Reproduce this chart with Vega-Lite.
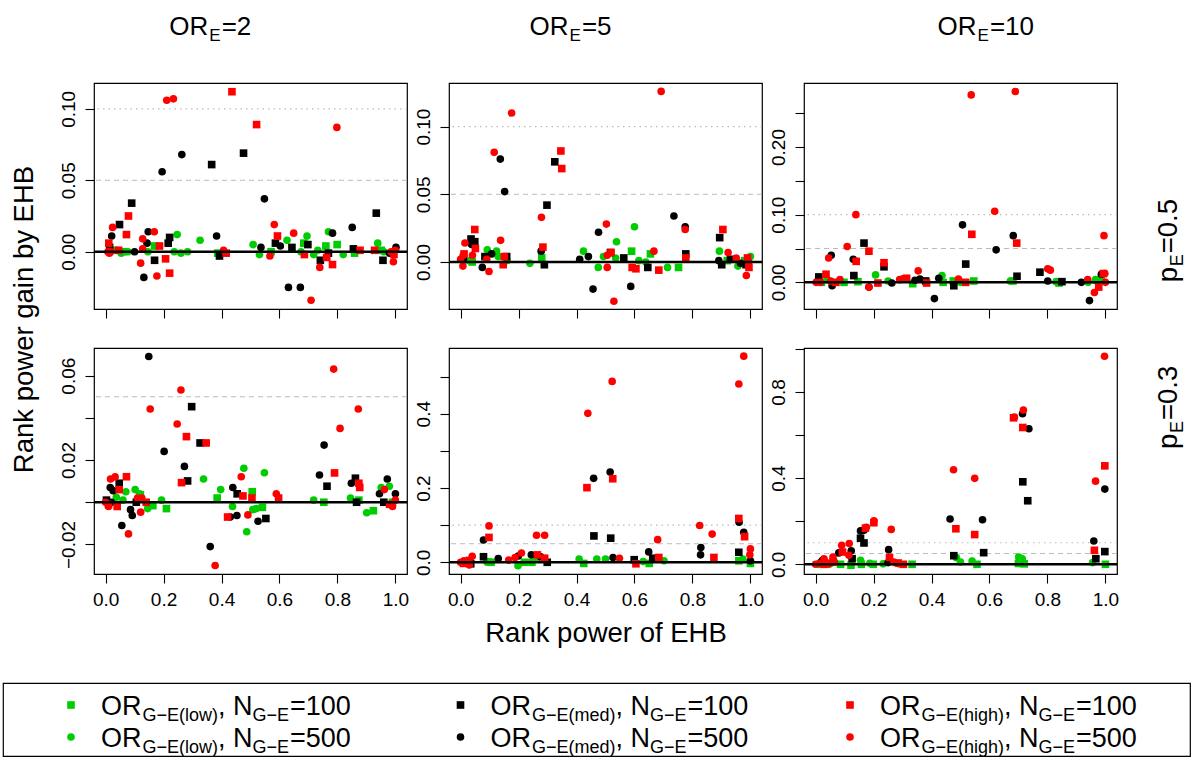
{
"$schema":"https://vega.github.io/schema/vega-lite/v6.json",
"background":"white",
"padding":{"left":2,"top":13,"right":0,"bottom":0},
"config":{"font":"Liberation Sans","view":{"stroke":"black","strokeWidth":1.2},
"axis":{"domain":false,"grid":false,"tickColor":"black","tickSize":9,"tickWidth":1.1,"labelFontSize":19,"labelColor":"black","labelFont":"Liberation Sans","labelFlush":false,"labelOverlap":false,"titleFont":"Liberation Sans","titleFontSize":27.5,"titleFontWeight":"normal","titleColor":"black"},
"axisX":{"labelPadding":7},
"axisY":{"labelAngle":270,"labelAlign":"center","labelBaseline":"alphabetic","labelPadding":11},
"text":{"font":"Liberation Sans","color":"black"}},
"datasets":{"pts":[
{"p":1,"g":"gS","x":0.169,"y":0.004},{"p":1,"g":"gS","x":0.76,"y":0.004},{"p":1,"g":"gS","x":0.799,"y":0.005},{"p":1,"g":"gS","x":0.387,"y":-0.001},{"p":1,"g":"gS","x":0.571,"y":0.0},{"p":1,"g":"gS","x":0.859,"y":-0.001},{"p":1,"g":"gS","x":0.951,"y":0.001},{"p":1,"g":"gS","x":0.684,"y":0.006},{"p":1,"g":"gS","x":0.03,"y":0.001},{"p":1,"g":"gS","x":0.06,"y":0.0},
{"p":1,"g":"gC","x":0.247,"y":0.012},{"p":1,"g":"gC","x":0.326,"y":0.008},{"p":1,"g":"gC","x":0.695,"y":0.011},{"p":1,"g":"gC","x":0.769,"y":0.014},{"p":1,"g":"gC","x":0.626,"y":0.008},{"p":1,"g":"gC","x":0.939,"y":0.006},{"p":1,"g":"gC","x":0.509,"y":0.005},{"p":1,"g":"gC","x":0.531,"y":-0.002},{"p":1,"g":"gC","x":0.732,"y":0.001},{"p":1,"g":"gC","x":0.718,"y":-0.002},{"p":1,"g":"gC","x":0.82,"y":-0.002},{"p":1,"g":"gC","x":0.054,"y":-0.001},{"p":1,"g":"gC","x":0.077,"y":0.0},{"p":1,"g":"gC","x":0.146,"y":0.0},{"p":1,"g":"gC","x":0.237,"y":0.0},{"p":1,"g":"gC","x":0.26,"y":-0.001},{"p":1,"g":"gC","x":0.283,"y":0.0},{"p":1,"g":"gC","x":0.674,"y":0.0},{"p":1,"g":"gC","x":0.96,"y":0.0},
{"p":1,"g":"kS","x":0.366,"y":0.061},{"p":1,"g":"kS","x":0.476,"y":0.069},{"p":1,"g":"kS","x":0.09,"y":0.034},{"p":1,"g":"kS","x":0.934,"y":0.027},{"p":1,"g":"kS","x":0.048,"y":0.019},{"p":1,"g":"kS","x":0.221,"y":0.01},{"p":1,"g":"kS","x":0.216,"y":0.006},{"p":1,"g":"kS","x":0.586,"y":0.006},{"p":1,"g":"kS","x":0.643,"y":0.003},{"p":1,"g":"kS","x":0.698,"y":0.005},{"p":1,"g":"kS","x":0.393,"y":-0.003},{"p":1,"g":"kS","x":0.169,"y":-0.006},{"p":1,"g":"kS","x":0.741,"y":-0.006},{"p":1,"g":"kS","x":0.769,"y":-0.001},{"p":1,"g":"kS","x":0.855,"y":0.002},{"p":1,"g":"kS","x":0.957,"y":-0.006},{"p":1,"g":"kS","x":0.014,"y":0.003},
{"p":1,"g":"kC","x":0.263,"y":0.068},{"p":1,"g":"kC","x":0.195,"y":0.056},{"p":1,"g":"kC","x":0.548,"y":0.037},{"p":1,"g":"kC","x":0.021,"y":0.011},{"p":1,"g":"kC","x":0.851,"y":0.017},{"p":1,"g":"kC","x":0.147,"y":0.014},{"p":1,"g":"kC","x":0.383,"y":0.011},{"p":1,"g":"kC","x":0.783,"y":0.013},{"p":1,"g":"kC","x":0.143,"y":0.006},{"p":1,"g":"kC","x":0.536,"y":0.003},{"p":1,"g":"kC","x":0.603,"y":0.004},{"p":1,"g":"kC","x":0.1,"y":0.0},{"p":1,"g":"kC","x":0.132,"y":-0.018},{"p":1,"g":"kC","x":0.631,"y":-0.025},{"p":1,"g":"kC","x":0.672,"y":-0.025},{"p":1,"g":"kC","x":1.002,"y":0.003},{"p":1,"g":"kC","x":0.98,"y":-0.001},
{"p":1,"g":"rS","x":0.436,"y":0.112},{"p":1,"g":"rS","x":0.521,"y":0.089},{"p":1,"g":"rS","x":0.079,"y":0.025},{"p":1,"g":"rS","x":0.072,"y":0.012},{"p":1,"g":"rS","x":0.593,"y":0.011},{"p":1,"g":"rS","x":0.011,"y":0.006},{"p":1,"g":"rS","x":0.186,"y":0.004},{"p":1,"g":"rS","x":0.416,"y":-0.001},{"p":1,"g":"rS","x":0.207,"y":-0.005},{"p":1,"g":"rS","x":0.221,"y":-0.015},{"p":1,"g":"rS","x":0.783,"y":-0.009},{"p":1,"g":"rS","x":0.763,"y":-0.004},{"p":1,"g":"rS","x":0.686,"y":-0.002},{"p":1,"g":"rS","x":0.878,"y":0.001},{"p":1,"g":"rS","x":0.928,"y":0.001},{"p":1,"g":"rS","x":0.045,"y":0.001},{"p":1,"g":"rS","x":0.995,"y":-0.002},
{"p":1,"g":"rC","x":0.211,"y":0.106},{"p":1,"g":"rC","x":0.234,"y":0.107},{"p":1,"g":"rC","x":0.798,"y":0.087},{"p":1,"g":"rC","x":0.024,"y":0.017},{"p":1,"g":"rC","x":0.582,"y":0.019},{"p":1,"g":"rC","x":0.168,"y":0.014},{"p":1,"g":"rC","x":0.649,"y":0.013},{"p":1,"g":"rC","x":0.128,"y":0.009},{"p":1,"g":"rC","x":0.128,"y":0.002},{"p":1,"g":"rC","x":0.407,"y":0.001},{"p":1,"g":"rC","x":0.567,"y":-0.003},{"p":1,"g":"rC","x":0.121,"y":-0.008},{"p":1,"g":"rC","x":0.177,"y":-0.017},{"p":1,"g":"rC","x":0.709,"y":-0.034},{"p":1,"g":"rC","x":0.739,"y":-0.011},{"p":1,"g":"rC","x":0.993,"y":-0.007},{"p":1,"g":"rC","x":0.013,"y":-0.001},{"p":1,"g":"rC","x":0.018,"y":0.0},{"p":1,"g":"rC","x":0.008,"y":0.0},{"p":1,"g":"rC","x":0.985,"y":0.0},{"p":1,"g":"rC","x":1.0,"y":0.001},
{"p":2,"g":"gS","x":0.28,"y":0.003},{"p":2,"g":"gS","x":0.59,"y":0.008},{"p":2,"g":"gS","x":0.655,"y":0.006},{"p":2,"g":"gS","x":0.752,"y":-0.004},{"p":2,"g":"gS","x":0.04,"y":0.0},{"p":2,"g":"gS","x":0.92,"y":0.001},{"p":2,"g":"gS","x":0.98,"y":0.001},
{"p":2,"g":"gC","x":0.239,"y":-0.001},{"p":2,"g":"gC","x":0.6,"y":0.026},{"p":2,"g":"gC","x":0.538,"y":0.015},{"p":2,"g":"gC","x":0.424,"y":0.008},{"p":2,"g":"gC","x":0.493,"y":0.004},{"p":2,"g":"gC","x":0.475,"y":-0.004},{"p":2,"g":"gC","x":0.615,"y":0.001},{"p":2,"g":"gC","x":0.639,"y":0.0},{"p":2,"g":"gC","x":0.714,"y":-0.004},{"p":2,"g":"gC","x":0.893,"y":0.008},{"p":2,"g":"gC","x":0.957,"y":-0.003},{"p":2,"g":"gC","x":1.0,"y":0.004},{"p":2,"g":"gC","x":0.092,"y":0.009},{"p":2,"g":"gC","x":0.124,"y":0.008},{"p":2,"g":"gC","x":0.13,"y":0.004},{"p":2,"g":"gC","x":0.16,"y":0.001},{"p":2,"g":"gC","x":0.535,"y":0.003},{"p":2,"g":"gC","x":0.03,"y":0.001},
{"p":2,"g":"kS","x":0.325,"y":0.074},{"p":2,"g":"kS","x":0.298,"y":0.042},{"p":2,"g":"kS","x":0.894,"y":0.018},{"p":2,"g":"kS","x":0.036,"y":0.017},{"p":2,"g":"kS","x":0.049,"y":0.015},{"p":2,"g":"kS","x":0.289,"y":-0.002},{"p":2,"g":"kS","x":0.517,"y":0.007},{"p":2,"g":"kS","x":0.563,"y":0.003},{"p":2,"g":"kS","x":0.646,"y":-0.004},{"p":2,"g":"kS","x":0.777,"y":0.006},{"p":2,"g":"kS","x":0.901,"y":-0.002},{"p":2,"g":"kS","x":0.931,"y":0.002},{"p":2,"g":"kS","x":0.084,"y":0.004},{"p":2,"g":"kS","x":0.159,"y":0.004},{"p":2,"g":"kS","x":0.985,"y":-0.002},
{"p":2,"g":"kC","x":0.137,"y":0.076},{"p":2,"g":"kC","x":0.152,"y":0.052},{"p":2,"g":"kC","x":0.736,"y":0.034},{"p":2,"g":"kC","x":0.775,"y":0.026},{"p":2,"g":"kC","x":0.038,"y":0.013},{"p":2,"g":"kC","x":0.278,"y":0.008},{"p":2,"g":"kC","x":0.476,"y":0.022},{"p":2,"g":"kC","x":0.441,"y":0.004},{"p":2,"g":"kC","x":0.411,"y":0.002},{"p":2,"g":"kC","x":0.457,"y":-0.02},{"p":2,"g":"kC","x":0.587,"y":-0.018},{"p":2,"g":"kC","x":0.891,"y":0.001},{"p":2,"g":"kC","x":0.966,"y":-0.001},{"p":2,"g":"kC","x":0.075,"y":-0.004},{"p":2,"g":"kC","x":0.107,"y":0.006},{"p":2,"g":"kC","x":0.01,"y":0.002},
{"p":2,"g":"rS","x":0.346,"y":0.082},{"p":2,"g":"rS","x":0.349,"y":0.069},{"p":2,"g":"rS","x":0.905,"y":0.024},{"p":2,"g":"rS","x":0.049,"y":0.024},{"p":2,"g":"rS","x":0.051,"y":0.01},{"p":2,"g":"rS","x":0.284,"y":0.011},{"p":2,"g":"rS","x":0.519,"y":0.007},{"p":2,"g":"rS","x":0.592,"y":-0.004},{"p":2,"g":"rS","x":0.605,"y":-0.005},{"p":2,"g":"rS","x":0.684,"y":-0.006},{"p":2,"g":"rS","x":0.777,"y":0.003},{"p":2,"g":"rS","x":0.147,"y":-0.002},{"p":2,"g":"rS","x":0.151,"y":0.004},{"p":2,"g":"rS","x":0.012,"y":0.006},{"p":2,"g":"rS","x":0.99,"y":0.003},{"p":2,"g":"rS","x":0.995,"y":-0.004},
{"p":2,"g":"rC","x":0.692,"y":0.126},{"p":2,"g":"rC","x":0.176,"y":0.11},{"p":2,"g":"rC","x":0.116,"y":0.081},{"p":2,"g":"rC","x":0.279,"y":0.033},{"p":2,"g":"rC","x":0.775,"y":0.024},{"p":2,"g":"rC","x":0.015,"y":0.014},{"p":2,"g":"rC","x":0.138,"y":0.016},{"p":2,"g":"rC","x":0.503,"y":0.028},{"p":2,"g":"rC","x":0.506,"y":0.005},{"p":2,"g":"rC","x":0.506,"y":-0.004},{"p":2,"g":"rC","x":0.529,"y":-0.029},{"p":2,"g":"rC","x":0.667,"y":0.008},{"p":2,"g":"rC","x":0.923,"y":0.007},{"p":2,"g":"rC","x":0.951,"y":0.003},{"p":2,"g":"rC","x":0.986,"y":-0.01},{"p":2,"g":"rC","x":0.994,"y":0.0},{"p":2,"g":"rC","x":0.0,"y":0.002},{"p":2,"g":"rC","x":0.008,"y":-0.003},{"p":2,"g":"rC","x":0.009,"y":0.005},{"p":2,"g":"rC","x":0.098,"y":-0.007},{"p":2,"g":"rC","x":0.09,"y":0.002},{"p":2,"g":"rC","x":0.041,"y":0.005},
{"p":3,"g":"gS","x":0.546,"y":0.002},{"p":3,"g":"gS","x":0.098,"y":0.0},{"p":3,"g":"gS","x":0.146,"y":0.001},{"p":3,"g":"gS","x":0.335,"y":-0.002},{"p":3,"g":"gS","x":0.44,"y":0.0},{"p":3,"g":"gS","x":0.475,"y":0.002},{"p":3,"g":"gS","x":0.681,"y":0.002},{"p":3,"g":"gS","x":0.84,"y":-0.001},{"p":3,"g":"gS","x":0.97,"y":0.003},{"p":3,"g":"gS","x":0.02,"y":0.0},
{"p":3,"g":"gC","x":0.672,"y":0.002},{"p":3,"g":"gC","x":0.207,"y":0.011},{"p":3,"g":"gC","x":0.436,"y":0.01},{"p":3,"g":"gC","x":0.04,"y":0.004},{"p":3,"g":"gC","x":0.5,"y":0.0},{"p":3,"g":"gC","x":0.83,"y":0.001},{"p":3,"g":"gC","x":0.966,"y":0.004},{"p":3,"g":"gC","x":0.986,"y":0.005},{"p":3,"g":"gC","x":0.25,"y":0.002},{"p":3,"g":"gC","x":0.38,"y":0.001},{"p":3,"g":"gC","x":0.94,"y":0.0},
{"p":3,"g":"kS","x":0.167,"y":0.058},{"p":3,"g":"kS","x":0.236,"y":0.023},{"p":3,"g":"kS","x":0.518,"y":0.027},{"p":3,"g":"kS","x":0.774,"y":0.015},{"p":3,"g":"kS","x":0.695,"y":0.009},{"p":3,"g":"kS","x":0.132,"y":0.01},{"p":3,"g":"kS","x":0.477,"y":-0.005},{"p":3,"g":"kS","x":0.011,"y":0.008},{"p":3,"g":"kS","x":0.38,"y":0.002},{"p":3,"g":"kS","x":0.85,"y":0.001},
{"p":3,"g":"kC","x":0.507,"y":0.085},{"p":3,"g":"kC","x":0.682,"y":0.069},{"p":3,"g":"kC","x":0.623,"y":0.048},{"p":3,"g":"kC","x":0.054,"y":0.04},{"p":3,"g":"kC","x":0.13,"y":0.034},{"p":3,"g":"kC","x":0.801,"y":0.002},{"p":3,"g":"kC","x":0.41,"y":-0.024},{"p":3,"g":"kC","x":0.945,"y":-0.027},{"p":3,"g":"kC","x":0.986,"y":0.012},{"p":3,"g":"kC","x":0.917,"y":0.0},{"p":3,"g":"kC","x":0.184,"y":-0.007},{"p":3,"g":"kC","x":0.263,"y":-0.001},{"p":3,"g":"kC","x":0.057,"y":-0.005},{"p":3,"g":"kC","x":0.343,"y":0.003},{"p":3,"g":"kC","x":0.36,"y":0.005},{"p":3,"g":"kC","x":0.425,"y":0.006},{"p":3,"g":"kC","x":0.01,"y":0.005},
{"p":3,"g":"rS","x":0.539,"y":0.071},{"p":3,"g":"rS","x":0.694,"y":0.058},{"p":3,"g":"rS","x":0.184,"y":0.046},{"p":3,"g":"rS","x":0.14,"y":0.031},{"p":3,"g":"rS","x":0.236,"y":0.029},{"p":3,"g":"rS","x":0.036,"y":0.012},{"p":3,"g":"rS","x":0.215,"y":-0.001},{"p":3,"g":"rS","x":0.383,"y":-0.001},{"p":3,"g":"rS","x":0.307,"y":0.005},{"p":3,"g":"rS","x":0.314,"y":0.006},{"p":3,"g":"rS","x":0.518,"y":0.0},{"p":3,"g":"rS","x":0.977,"y":-0.007},{"p":3,"g":"rS","x":0.07,"y":0.0},{"p":3,"g":"rS","x":0.993,"y":0.013},
{"p":3,"g":"rC","x":0.689,"y":0.282},{"p":3,"g":"rC","x":0.537,"y":0.277},{"p":3,"g":"rC","x":0.139,"y":0.1},{"p":3,"g":"rC","x":0.618,"y":0.105},{"p":3,"g":"rC","x":0.109,"y":0.053},{"p":3,"g":"rC","x":0.045,"y":0.036},{"p":3,"g":"rC","x":0.801,"y":0.02},{"p":3,"g":"rC","x":0.81,"y":0.018},{"p":3,"g":"rC","x":0.354,"y":0.017},{"p":3,"g":"rC","x":0.493,"y":0.005},{"p":3,"g":"rC","x":0.962,"y":-0.015},{"p":3,"g":"rC","x":0.995,"y":0.069},{"p":3,"g":"rC","x":0.998,"y":0.013},{"p":3,"g":"rC","x":1.0,"y":0.0},{"p":3,"g":"rC","x":0.939,"y":0.004},{"p":3,"g":"rC","x":0.184,"y":-0.007},{"p":3,"g":"rC","x":0.002,"y":0.0},{"p":3,"g":"rC","x":0.017,"y":0.0},{"p":3,"g":"rC","x":0.052,"y":0.002},{"p":3,"g":"rC","x":0.084,"y":0.004},{"p":3,"g":"rC","x":0.29,"y":0.004},
{"p":4,"g":"gS","x":0.506,"y":0.005},{"p":4,"g":"gS","x":0.385,"y":0.002},{"p":4,"g":"gS","x":0.163,"y":-0.0016},{"p":4,"g":"gS","x":0.21,"y":-0.003},{"p":4,"g":"gS","x":0.541,"y":-0.0024},{"p":4,"g":"gS","x":0.874,"y":0.001},{"p":4,"g":"gS","x":0.753,"y":0.0},{"p":4,"g":"gS","x":0.924,"y":-0.004},{"p":4,"g":"gS","x":0.12,"y":0.0035},{"p":4,"g":"gS","x":0.99,"y":0.0},
{"p":4,"g":"gC","x":0.477,"y":0.0161},{"p":4,"g":"gC","x":0.548,"y":0.014},{"p":4,"g":"gC","x":0.338,"y":0.011},{"p":4,"g":"gC","x":0.07,"y":0.005},{"p":4,"g":"gC","x":0.102,"y":0.006},{"p":4,"g":"gC","x":0.117,"y":0.004},{"p":4,"g":"gC","x":0.397,"y":0.006},{"p":4,"g":"gC","x":0.193,"y":0.001},{"p":4,"g":"gC","x":0.845,"y":0.002},{"p":4,"g":"gC","x":0.718,"y":0.001},{"p":4,"g":"gC","x":0.901,"y":-0.005},{"p":4,"g":"gC","x":0.951,"y":0.007},{"p":4,"g":"gC","x":0.979,"y":0.0076},{"p":4,"g":"gC","x":0.145,"y":-0.003},{"p":4,"g":"gC","x":0.487,"y":-0.014},{"p":4,"g":"gC","x":0.508,"y":-0.0035},{"p":4,"g":"gC","x":0.52,"y":-0.003},{"p":4,"g":"gC","x":0.438,"y":-0.002},{"p":4,"g":"gC","x":0.037,"y":0.0024},{"p":4,"g":"gC","x":0.06,"y":0.001},
{"p":4,"g":"kS","x":0.297,"y":0.0453},{"p":4,"g":"kS","x":0.326,"y":0.0281},{"p":4,"g":"kS","x":0.283,"y":0.0101},{"p":4,"g":"kS","x":0.047,"y":0.009},{"p":4,"g":"kS","x":0.454,"y":0.004},{"p":4,"g":"kS","x":0.862,"y":0.0114},{"p":4,"g":"kS","x":0.866,"y":0.0},{"p":4,"g":"kS","x":0.553,"y":-0.0077},{"p":4,"g":"kS","x":0.106,"y":0.0},{"p":4,"g":"kS","x":0.96,"y":0.0},{"p":4,"g":"kS","x":0.764,"y":0.0076},{"p":4,"g":"kS","x":0.003,"y":0.001},
{"p":4,"g":"kC","x":0.149,"y":0.0691},{"p":4,"g":"kC","x":0.754,"y":0.0271},{"p":4,"g":"kC","x":0.202,"y":0.0241},{"p":4,"g":"kC","x":0.272,"y":0.017},{"p":4,"g":"kC","x":0.738,"y":0.0129},{"p":4,"g":"kC","x":0.016,"y":0.007},{"p":4,"g":"kC","x":0.026,"y":0.0055},{"p":4,"g":"kC","x":0.439,"y":0.007},{"p":4,"g":"kC","x":0.848,"y":0.009},{"p":4,"g":"kC","x":0.972,"y":0.011},{"p":4,"g":"kC","x":0.945,"y":0.004},{"p":4,"g":"kC","x":1.0,"y":0.004},{"p":4,"g":"kC","x":0.056,"y":-0.011},{"p":4,"g":"kC","x":0.086,"y":-0.0035},{"p":4,"g":"kC","x":0.092,"y":-0.0063},{"p":4,"g":"kC","x":0.361,"y":-0.021},{"p":4,"g":"kC","x":0.43,"y":-0.007},{"p":4,"g":"kC","x":0.453,"y":-0.0063},{"p":4,"g":"kC","x":0.526,"y":-0.009},{"p":4,"g":"kC","x":0.02,"y":0.0},
{"p":4,"g":"rS","x":0.279,"y":0.0311},{"p":4,"g":"rS","x":0.347,"y":0.0281},{"p":4,"g":"rS","x":0.79,"y":0.0139},{"p":4,"g":"rS","x":0.262,"y":0.0093},{"p":4,"g":"rS","x":0.072,"y":0.0121},{"p":4,"g":"rS","x":0.047,"y":0.006},{"p":4,"g":"rS","x":0.474,"y":0.003},{"p":4,"g":"rS","x":0.505,"y":0.002},{"p":4,"g":"rS","x":0.597,"y":0.002},{"p":4,"g":"rS","x":0.874,"y":0.009},{"p":4,"g":"rS","x":0.877,"y":0.007},{"p":4,"g":"rS","x":0.421,"y":-0.007},{"p":4,"g":"rS","x":0.14,"y":0.0},{"p":4,"g":"rS","x":0.98,"y":-0.001},{"p":4,"g":"rS","x":0.01,"y":-0.001},{"p":4,"g":"rS","x":0.04,"y":-0.002},
{"p":4,"g":"rC","x":0.787,"y":0.0631},{"p":4,"g":"rC","x":0.26,"y":0.0532},{"p":4,"g":"rC","x":0.154,"y":0.0442},{"p":4,"g":"rC","x":0.872,"y":0.0442},{"p":4,"g":"rC","x":0.247,"y":0.0371},{"p":4,"g":"rC","x":0.809,"y":0.035},{"p":4,"g":"rC","x":0.468,"y":0.0121},{"p":4,"g":"rC","x":0.017,"y":0.011},{"p":4,"g":"rC","x":0.033,"y":0.012},{"p":4,"g":"rC","x":0.589,"y":0.004},{"p":4,"g":"rC","x":0.962,"y":0.006},{"p":4,"g":"rC","x":0.079,"y":-0.015},{"p":4,"g":"rC","x":0.121,"y":-0.0047},{"p":4,"g":"rC","x":0.378,"y":-0.03},{"p":4,"g":"rC","x":0.491,"y":-0.006},{"p":4,"g":"rC","x":0.0,"y":0.0},{"p":4,"g":"rC","x":0.01,"y":-0.002},{"p":4,"g":"rC","x":0.11,"y":0.002},{"p":4,"g":"rC","x":0.125,"y":0.002},{"p":4,"g":"rC","x":0.99,"y":-0.002},{"p":4,"g":"rC","x":1.0,"y":0.001},
{"p":5,"g":"gS","x":0.425,"y":-0.003},{"p":5,"g":"gS","x":0.22,"y":0.0},{"p":5,"g":"gS","x":0.246,"y":0.0},{"p":5,"g":"gS","x":0.096,"y":0.001},{"p":5,"g":"gS","x":0.105,"y":0.0},{"p":5,"g":"gS","x":0.651,"y":-0.003},{"p":5,"g":"gS","x":0.96,"y":0.004},{"p":5,"g":"gS","x":1.0,"y":-0.003},{"p":5,"g":"gS","x":0.03,"y":0.0},
{"p":5,"g":"gC","x":0.409,"y":0.009},{"p":5,"g":"gC","x":0.47,"y":0.009},{"p":5,"g":"gC","x":0.5,"y":0.009},{"p":5,"g":"gC","x":0.198,"y":-0.009},{"p":5,"g":"gC","x":0.263,"y":0.009},{"p":5,"g":"gC","x":0.63,"y":0.002},{"p":5,"g":"gC","x":0.702,"y":0.004},{"p":5,"g":"gC","x":0.974,"y":0.009},{"p":5,"g":"gC","x":0.09,"y":0.002},{"p":5,"g":"gC","x":0.02,"y":0.001},
{"p":5,"g":"kS","x":0.46,"y":0.071},{"p":5,"g":"kS","x":0.518,"y":0.065},{"p":5,"g":"kS","x":0.96,"y":0.027},{"p":5,"g":"kS","x":0.299,"y":0.0},{"p":5,"g":"kS","x":0.079,"y":0.015},{"p":5,"g":"kS","x":0.599,"y":0.007},{"p":5,"g":"kS","x":0.663,"y":0.011},{"p":5,"g":"kS","x":0.035,"y":-0.004},
{"p":5,"g":"kC","x":0.516,"y":0.243},{"p":5,"g":"kC","x":0.459,"y":0.226},{"p":5,"g":"kC","x":0.961,"y":0.108},{"p":5,"g":"kC","x":0.977,"y":0.081},{"p":5,"g":"kC","x":0.079,"y":0.06},{"p":5,"g":"kC","x":0.829,"y":0.04},{"p":5,"g":"kC","x":0.828,"y":0.02},{"p":5,"g":"kC","x":0.649,"y":0.028},{"p":5,"g":"kC","x":0.526,"y":0.013},{"p":5,"g":"kC","x":0.244,"y":0.02},{"p":5,"g":"kC","x":0.276,"y":0.015},{"p":5,"g":"kC","x":0.13,"y":0.01},{"p":5,"g":"kC","x":0.199,"y":0.017},{"p":5,"g":"kC","x":1.0,"y":0.004},
{"p":5,"g":"rS","x":0.525,"y":0.225},{"p":5,"g":"rS","x":0.436,"y":0.201},{"p":5,"g":"rS","x":0.96,"y":0.118},{"p":5,"g":"rS","x":0.98,"y":0.069},{"p":5,"g":"rS","x":0.098,"y":0.067},{"p":5,"g":"rS","x":0.874,"y":0.013},{"p":5,"g":"rS","x":0.605,"y":-0.004},{"p":5,"g":"rS","x":0.684,"y":0.013},{"p":5,"g":"rS","x":0.265,"y":0.02},{"p":5,"g":"rS","x":0.29,"y":0.011},{"p":5,"g":"rS","x":0.01,"y":-0.003},{"p":5,"g":"rS","x":0.03,"y":0.005},
{"p":5,"g":"rC","x":0.977,"y":0.555},{"p":5,"g":"rC","x":0.96,"y":0.48},{"p":5,"g":"rC","x":0.523,"y":0.487},{"p":5,"g":"rC","x":0.439,"y":0.401},{"p":5,"g":"rC","x":0.098,"y":0.098},{"p":5,"g":"rC","x":0.825,"y":0.099},{"p":5,"g":"rC","x":0.868,"y":0.076},{"p":5,"g":"rC","x":0.68,"y":0.061},{"p":5,"g":"rC","x":0.262,"y":0.073},{"p":5,"g":"rC","x":0.29,"y":0.073},{"p":5,"g":"rC","x":1.0,"y":0.036},{"p":5,"g":"rC","x":0.998,"y":0.02},{"p":5,"g":"rC","x":0.548,"y":0.011},{"p":5,"g":"rC","x":0.21,"y":0.025},{"p":5,"g":"rC","x":0.188,"y":0.013},{"p":5,"g":"rC","x":0.166,"y":0.006},{"p":5,"g":"rC","x":0.0,"y":0.0},{"p":5,"g":"rC","x":0.02,"y":0.0},{"p":5,"g":"rC","x":0.04,"y":0.016},{"p":5,"g":"rC","x":0.03,"y":-0.007},{"p":5,"g":"rC","x":0.012,"y":0.004},
{"p":6,"g":"gS","x":0.557,"y":0.0},{"p":6,"g":"gS","x":0.7,"y":0.004},{"p":6,"g":"gS","x":0.72,"y":0.002},{"p":6,"g":"gS","x":1.0,"y":0.0},{"p":6,"g":"gS","x":0.158,"y":0.0},{"p":6,"g":"gS","x":0.122,"y":-0.004},{"p":6,"g":"gS","x":0.086,"y":0.0},{"p":6,"g":"gS","x":0.199,"y":0.0},{"p":6,"g":"gS","x":0.333,"y":0.0},{"p":6,"g":"gS","x":0.02,"y":0.0},
{"p":6,"g":"gC","x":0.486,"y":0.031},{"p":6,"g":"gC","x":0.5,"y":0.011},{"p":6,"g":"gC","x":0.54,"y":0.015},{"p":6,"g":"gC","x":0.701,"y":0.034},{"p":6,"g":"gC","x":0.713,"y":0.026},{"p":6,"g":"gC","x":0.716,"y":0.006},{"p":6,"g":"gC","x":0.956,"y":0.008},{"p":6,"g":"gC","x":0.155,"y":0.019},{"p":6,"g":"gC","x":0.187,"y":0.005},{"p":6,"g":"gC","x":0.233,"y":0.002},{"p":6,"g":"gC","x":0.05,"y":0.002},{"p":6,"g":"gC","x":0.01,"y":0.0},
{"p":6,"g":"kS","x":0.715,"y":0.383},{"p":6,"g":"kS","x":0.732,"y":0.295},{"p":6,"g":"kS","x":0.155,"y":0.121},{"p":6,"g":"kS","x":0.167,"y":0.099},{"p":6,"g":"kS","x":0.126,"y":0.026},{"p":6,"g":"kS","x":0.967,"y":0.026},{"p":6,"g":"kS","x":0.998,"y":0.059},{"p":6,"g":"kS","x":0.477,"y":0.04},{"p":6,"g":"kS","x":0.58,"y":0.054},{"p":6,"g":"kS","x":0.02,"y":0.005},
{"p":6,"g":"kC","x":0.714,"y":0.699},{"p":6,"g":"kC","x":0.736,"y":0.629},{"p":6,"g":"kC","x":0.998,"y":0.349},{"p":6,"g":"kC","x":0.464,"y":0.21},{"p":6,"g":"kC","x":0.576,"y":0.207},{"p":6,"g":"kC","x":0.155,"y":0.155},{"p":6,"g":"kC","x":0.167,"y":0.158},{"p":6,"g":"kC","x":0.252,"y":0.068},{"p":6,"g":"kC","x":0.123,"y":0.063},{"p":6,"g":"kC","x":0.08,"y":0.053},{"p":6,"g":"kC","x":0.96,"y":0.108},{"p":6,"g":"kC","x":0.023,"y":0.017},{"p":6,"g":"kC","x":0.063,"y":0.014},{"p":6,"g":"kC","x":0.25,"y":0.008},
{"p":6,"g":"rS","x":0.683,"y":0.68},{"p":6,"g":"rS","x":0.715,"y":0.635},{"p":6,"g":"rS","x":0.998,"y":0.457},{"p":6,"g":"rS","x":0.484,"y":0.165},{"p":6,"g":"rS","x":0.549,"y":0.138},{"p":6,"g":"rS","x":0.201,"y":0.193},{"p":6,"g":"rS","x":0.172,"y":0.168},{"p":6,"g":"rS","x":0.255,"y":0.032},{"p":6,"g":"rS","x":0.093,"y":0.057},{"p":6,"g":"rS","x":0.962,"y":0.065},{"p":6,"g":"rS","x":0.285,"y":0.006},{"p":6,"g":"rS","x":0.303,"y":0.0},{"p":6,"g":"rS","x":0.03,"y":0.0},{"p":6,"g":"rS","x":0.06,"y":0.012},
{"p":6,"g":"rC","x":0.997,"y":0.966},{"p":6,"g":"rC","x":0.717,"y":0.716},{"p":6,"g":"rC","x":0.686,"y":0.683},{"p":6,"g":"rC","x":0.476,"y":0.439},{"p":6,"g":"rC","x":0.549,"y":0.399},{"p":6,"g":"rC","x":0.966,"y":0.386},{"p":6,"g":"rC","x":0.201,"y":0.202},{"p":6,"g":"rC","x":0.175,"y":0.172},{"p":6,"g":"rC","x":0.261,"y":0.162},{"p":6,"g":"rC","x":0.09,"y":0.088},{"p":6,"g":"rC","x":0.116,"y":0.096},{"p":6,"g":"rC","x":0.115,"y":0.042},{"p":6,"g":"rC","x":0.27,"y":0.011},{"p":6,"g":"rC","x":0.287,"y":0.003},{"p":6,"g":"rC","x":0.0,"y":0.0},{"p":6,"g":"rC","x":0.012,"y":0.004},{"p":6,"g":"rC","x":0.029,"y":0.026},{"p":6,"g":"rC","x":0.035,"y":0.011},{"p":6,"g":"rC","x":0.06,"y":0.034},{"p":6,"g":"rC","x":0.063,"y":0.011},{"p":6,"g":"rC","x":0.045,"y":0.001}
],
"one":[{}],
"leg":[
{"g":"gS","lev":"low","n":"100","s":"G−E(low)","eq":"=100"},
{"g":"kS","lev":"med","n":"100","s":"G−E(med)","eq":"=100"},
{"g":"rS","lev":"high","n":"100","s":"G−E(high)","eq":"=100"},
{"g":"gC","lev":"low","n":"500","s":"G−E(low)","eq":"=500"},
{"g":"kC","lev":"med","n":"500","s":"G−E(med)","eq":"=500"},
{"g":"rC","lev":"high","n":"500","s":"G−E(high)","eq":"=500"}
]},
"vconcat":[
{"hconcat":[
{"width":91,"height":5,"view":{"stroke":null},"data":{"name":"one"},"mark":{"type":"point","opacity":0},"encoding":{}},
{"concat":[
{"width":313,"height":226,"layer":[
{"data":{"name":"one"},"mark":{"type":"rule","color":"#bbbbbb","strokeDash":[5,4],"strokeWidth":1,"clip":true},"encoding":{"y":{"datum":0.05}}},
{"data":{"name":"one"},"mark":{"type":"rule","color":"#bbbbbb","strokeDash":[1.5,4],"strokeWidth":1.2,"clip":true},"encoding":{"y":{"datum":0.1}}},
{"data":{"name":"pts"},"transform":[{"filter":"datum.p==1"}],"mark":{"type":"point","filled":true,"opacity":1,"size":58},"encoding":{
"x":{"field":"x","type":"quantitative","scale":{"domain":[-0.04,1.04],"nice":false,"zero":false},"axis":{"values":[0,0.2,0.4,0.6,0.8,1],"labels":false,"title":null}},
"y":{"field":"y","type":"quantitative","scale":{"domain":[-0.0401,0.1181],"nice":false,"zero":false},"axis":{"values":[0,0.05,0.1],"format":".2f","title":"Rank power gain by EHB","titleAngle":270,"titleX":-62,"titleY":236,"titleAlign":"center","titleBaseline":"alphabetic"}},
"color":{"field":"g","type":"nominal","scale":{"domain":["gS","gC","kS","kC","rS","rC"],"range":["#00cd00","#00cd00","#000000","#000000","#ff0000","#ff0000"]},"legend":null},
"shape":{"field":"g","type":"nominal","scale":{"domain":["gS","gC","kS","kC","rS","rC"],"range":["square","circle","square","circle","square","circle"]},"legend":null}}},
{"data":{"name":"one"},"mark":{"type":"rule","color":"black","strokeWidth":2.5},"encoding":{"y":{"datum":0}}},
{"data":{"name":"one"},"mark":{"type":"text","text":"OR","align":"right","baseline":"alphabetic","fontSize":26,"dy":-48},"encoding":{"x":{"datum":0.354},"y":{"datum":0.1181}}},
{"data":{"name":"one"},"mark":{"type":"text","text":"E","align":"left","baseline":"alphabetic","fontSize":17,"dx":1,"dy":-42},"encoding":{"x":{"datum":0.354},"y":{"datum":0.1181}}},
{"data":{"name":"one"},"mark":{"type":"text","text":"=2","align":"left","baseline":"alphabetic","fontSize":26,"dx":13.5,"dy":-48},"encoding":{"x":{"datum":0.354},"y":{"datum":0.1181}}}
]},
{"width":313,"height":226,"layer":[
{"data":{"name":"one"},"mark":{"type":"rule","color":"#bbbbbb","strokeDash":[5,4],"strokeWidth":1,"clip":true},"encoding":{"y":{"datum":0.05}}},
{"data":{"name":"one"},"mark":{"type":"rule","color":"#bbbbbb","strokeDash":[1.5,4],"strokeWidth":1.2,"clip":true},"encoding":{"y":{"datum":0.1}}},
{"data":{"name":"pts"},"transform":[{"filter":"datum.p==2"}],"mark":{"type":"point","filled":true,"opacity":1,"size":58},"encoding":{
"x":{"field":"x","type":"quantitative","scale":{"domain":[-0.04,1.04],"nice":false,"zero":false},"axis":{"values":[0,0.2,0.4,0.6,0.8,1],"labels":false,"title":null}},
"y":{"field":"y","type":"quantitative","scale":{"domain":[-0.0347,0.1322],"nice":false,"zero":false},"axis":{"values":[0,0.05,0.1],"format":".2f","title":null}},
"color":{"field":"g","type":"nominal","scale":{"domain":["gS","gC","kS","kC","rS","rC"],"range":["#00cd00","#00cd00","#000000","#000000","#ff0000","#ff0000"]},"legend":null},
"shape":{"field":"g","type":"nominal","scale":{"domain":["gS","gC","kS","kC","rS","rC"],"range":["square","circle","square","circle","square","circle"]},"legend":null}}},
{"data":{"name":"one"},"mark":{"type":"rule","color":"black","strokeWidth":2.5},"encoding":{"y":{"datum":0}}},
{"data":{"name":"one"},"mark":{"type":"text","text":"OR","align":"right","baseline":"alphabetic","fontSize":26,"dy":-48},"encoding":{"x":{"datum":0.372},"y":{"datum":0.1322}}},
{"data":{"name":"one"},"mark":{"type":"text","text":"E","align":"left","baseline":"alphabetic","fontSize":17,"dx":1,"dy":-42},"encoding":{"x":{"datum":0.372},"y":{"datum":0.1322}}},
{"data":{"name":"one"},"mark":{"type":"text","text":"=5","align":"left","baseline":"alphabetic","fontSize":26,"dx":13.5,"dy":-48},"encoding":{"x":{"datum":0.372},"y":{"datum":0.1322}}}
]},
{"width":313,"height":226,"layer":[
{"data":{"name":"one"},"mark":{"type":"rule","color":"#bbbbbb","strokeDash":[5,4],"strokeWidth":1,"clip":true},"encoding":{"y":{"datum":0.05}}},
{"data":{"name":"one"},"mark":{"type":"rule","color":"#bbbbbb","strokeDash":[1.5,4],"strokeWidth":1.2,"clip":true},"encoding":{"y":{"datum":0.1}}},
{"data":{"name":"pts"},"transform":[{"filter":"datum.p==3"}],"mark":{"type":"point","filled":true,"opacity":1,"size":58},"encoding":{
"x":{"field":"x","type":"quantitative","scale":{"domain":[-0.04,1.04],"nice":false,"zero":false},"axis":{"values":[0,0.2,0.4,0.6,0.8,1],"labels":false,"title":null}},
"y":{"field":"y","type":"quantitative","scale":{"domain":[-0.0394,0.2946],"nice":false,"zero":false},"axis":{"values":[0,0.05,0.1,0.15,0.2,0.25],"format":".2f","labelExpr":"(abs(datum.value)<1e-9||abs(datum.value-0.1)<1e-9||abs(datum.value-0.2)<1e-9)?datum.label:''","title":null}},
"color":{"field":"g","type":"nominal","scale":{"domain":["gS","gC","kS","kC","rS","rC"],"range":["#00cd00","#00cd00","#000000","#000000","#ff0000","#ff0000"]},"legend":null},
"shape":{"field":"g","type":"nominal","scale":{"domain":["gS","gC","kS","kC","rS","rC"],"range":["square","circle","square","circle","square","circle"]},"legend":null}}},
{"data":{"name":"one"},"mark":{"type":"rule","color":"black","strokeWidth":2.5},"encoding":{"y":{"datum":0}}},
{"data":{"name":"one"},"mark":{"type":"text","text":"OR","align":"right","baseline":"alphabetic","fontSize":26,"dy":-48},"encoding":{"x":{"datum":0.555},"y":{"datum":0.2946}}},
{"data":{"name":"one"},"mark":{"type":"text","text":"E","align":"left","baseline":"alphabetic","fontSize":17,"dx":1,"dy":-42},"encoding":{"x":{"datum":0.555},"y":{"datum":0.2946}}},
{"data":{"name":"one"},"mark":{"type":"text","text":"=10","align":"left","baseline":"alphabetic","fontSize":26,"dx":13.5,"dy":-48},"encoding":{"x":{"datum":0.555},"y":{"datum":0.2946}}},
{"data":{"name":"one"},"mark":{"type":"text","text":"p","align":"left","baseline":"alphabetic","fontSize":27.5,"angle":270},"encoding":{"x":{"datum":1.248},"y":{"datum":0}}},
{"data":{"name":"one"},"mark":{"type":"text","text":"E","align":"left","baseline":"alphabetic","fontSize":18,"angle":270,"dx":16,"dy":6},"encoding":{"x":{"datum":1.248},"y":{"datum":0}}},
{"data":{"name":"one"},"mark":{"type":"text","text":"=0.5","align":"left","baseline":"alphabetic","fontSize":27.5,"angle":270,"dx":29},"encoding":{"x":{"datum":1.248},"y":{"datum":0}}}
]},
{"width":313,"height":226,"layer":[
{"data":{"name":"one"},"mark":{"type":"rule","color":"#bbbbbb","strokeDash":[5,4],"strokeWidth":1,"clip":true},"encoding":{"y":{"datum":0.05}}},
{"data":{"name":"one"},"mark":{"type":"rule","color":"#bbbbbb","strokeDash":[1.5,4],"strokeWidth":1.2,"clip":true},"encoding":{"y":{"datum":0.1}}},
{"data":{"name":"pts"},"transform":[{"filter":"datum.p==4"}],"mark":{"type":"point","filled":true,"opacity":1,"size":58},"encoding":{
"x":{"field":"x","type":"quantitative","scale":{"domain":[-0.04,1.04],"nice":false,"zero":false},"axis":{"values":[0,0.2,0.4,0.6,0.8,1],"format":".1f","title":null}},
"y":{"field":"y","type":"quantitative","scale":{"domain":[-0.034,0.0731],"nice":false,"zero":false},"axis":{"values":[-0.02,0,0.02,0.04,0.06],"format":".2f","labelExpr":"(abs(datum.value+0.02)<1e-9||abs(datum.value-0.02)<1e-9||abs(datum.value-0.06)<1e-9)?datum.label:''","title":null}},
"color":{"field":"g","type":"nominal","scale":{"domain":["gS","gC","kS","kC","rS","rC"],"range":["#00cd00","#00cd00","#000000","#000000","#ff0000","#ff0000"]},"legend":null},
"shape":{"field":"g","type":"nominal","scale":{"domain":["gS","gC","kS","kC","rS","rC"],"range":["square","circle","square","circle","square","circle"]},"legend":null}}},
{"data":{"name":"one"},"mark":{"type":"rule","color":"black","strokeWidth":2.5},"encoding":{"y":{"datum":0}}}
]},
{"width":313,"height":226,"layer":[
{"data":{"name":"one"},"mark":{"type":"rule","color":"#bbbbbb","strokeDash":[5,4],"strokeWidth":1,"clip":true},"encoding":{"y":{"datum":0.05}}},
{"data":{"name":"one"},"mark":{"type":"rule","color":"#bbbbbb","strokeDash":[1.5,4],"strokeWidth":1.2,"clip":true},"encoding":{"y":{"datum":0.1}}},
{"data":{"name":"pts"},"transform":[{"filter":"datum.p==5"}],"mark":{"type":"point","filled":true,"opacity":1,"size":58},"encoding":{
"x":{"field":"x","type":"quantitative","scale":{"domain":[-0.04,1.04],"nice":false,"zero":false},"axis":{"values":[0,0.2,0.4,0.6,0.8,1],"format":".1f","title":"Rank power of EHB","titlePadding":10}},
"y":{"field":"y","type":"quantitative","scale":{"domain":[-0.0315,0.577],"nice":false,"zero":false},"axis":{"values":[0,0.1,0.2,0.3,0.4,0.5],"format":".1f","labelExpr":"(abs(datum.value)<1e-9||abs(datum.value-0.2)<1e-9||abs(datum.value-0.4)<1e-9)?datum.label:''","title":null}},
"color":{"field":"g","type":"nominal","scale":{"domain":["gS","gC","kS","kC","rS","rC"],"range":["#00cd00","#00cd00","#000000","#000000","#ff0000","#ff0000"]},"legend":null},
"shape":{"field":"g","type":"nominal","scale":{"domain":["gS","gC","kS","kC","rS","rC"],"range":["square","circle","square","circle","square","circle"]},"legend":null}}},
{"data":{"name":"one"},"mark":{"type":"rule","color":"black","strokeWidth":2.5},"encoding":{"y":{"datum":0}}}
]},
{"width":313,"height":226,"layer":[
{"data":{"name":"one"},"mark":{"type":"rule","color":"#bbbbbb","strokeDash":[5,4],"strokeWidth":1,"clip":true},"encoding":{"y":{"datum":0.05}}},
{"data":{"name":"one"},"mark":{"type":"rule","color":"#bbbbbb","strokeDash":[1.5,4],"strokeWidth":1.2,"clip":true},"encoding":{"y":{"datum":0.1}}},
{"data":{"name":"pts"},"transform":[{"filter":"datum.p==6"}],"mark":{"type":"point","filled":true,"opacity":1,"size":58},"encoding":{
"x":{"field":"x","type":"quantitative","scale":{"domain":[-0.04,1.04],"nice":false,"zero":false},"axis":{"values":[0,0.2,0.4,0.6,0.8,1],"format":".1f","title":null}},
"y":{"field":"y","type":"quantitative","scale":{"domain":[-0.045,1.004],"nice":false,"zero":false},"axis":{"values":[0,0.2,0.4,0.6,0.8,1],"format":".1f","labelExpr":"(abs(datum.value)<1e-9||abs(datum.value-0.4)<1e-9||abs(datum.value-0.8)<1e-9)?datum.label:''","title":null}},
"color":{"field":"g","type":"nominal","scale":{"domain":["gS","gC","kS","kC","rS","rC"],"range":["#00cd00","#00cd00","#000000","#000000","#ff0000","#ff0000"]},"legend":null},
"shape":{"field":"g","type":"nominal","scale":{"domain":["gS","gC","kS","kC","rS","rC"],"range":["square","circle","square","circle","square","circle"]},"legend":null}}},
{"data":{"name":"one"},"mark":{"type":"rule","color":"black","strokeWidth":2.5},"encoding":{"y":{"datum":0}}},
{"data":{"name":"one"},"mark":{"type":"text","text":"p","align":"left","baseline":"alphabetic","fontSize":27.5,"angle":270},"encoding":{"x":{"datum":1.248},"y":{"datum":0.535}}},
{"data":{"name":"one"},"mark":{"type":"text","text":"E","align":"left","baseline":"alphabetic","fontSize":18,"angle":270,"dx":16,"dy":6},"encoding":{"x":{"datum":1.248},"y":{"datum":0.535}}},
{"data":{"name":"one"},"mark":{"type":"text","text":"=0.3","align":"left","baseline":"alphabetic","fontSize":27.5,"angle":270,"dx":29},"encoding":{"x":{"datum":1.248},"y":{"datum":0.535}}}
]}
],"columns":3,"spacing":{"row":39,"column":42},"bounds":"flush"}
],"spacing":0,"bounds":"flush"},
{"width":1187,"height":73,"data":{"name":"leg"},
"encoding":{"x":{"field":"lev","type":"nominal","scale":{"type":"point","domain":["low","med","high"],"range":[68,847],"padding":0},"axis":null},
"y":{"field":"n","type":"nominal","scale":{"type":"point","domain":["100","500"],"range":[22,54],"padding":0},"axis":null}},
"layer":[
{"mark":{"type":"point","filled":true,"opacity":1,"size":58},"encoding":{
"color":{"field":"g","type":"nominal","scale":{"domain":["gS","gC","kS","kC","rS","rC"],"range":["#00cd00","#00cd00","#000000","#000000","#ff0000","#ff0000"]},"legend":null},
"shape":{"field":"g","type":"nominal","scale":{"domain":["gS","gC","kS","kC","rS","rC"],"range":["square","circle","square","circle","square","circle"]},"legend":null}}},
{"mark":{"type":"text","text":"OR","align":"left","baseline":"alphabetic","fontSize":27,"dx":30,"dy":10}},
{"mark":{"type":"text","align":"left","baseline":"alphabetic","fontSize":18,"dx":71.5,"dy":16},"encoding":{"text":{"field":"s"}}},
{"transform":[{"filter":"datum.lev=='low'"}],"mark":{"type":"text","text":", N","align":"left","baseline":"alphabetic","fontSize":27,"dx":147,"dy":10}},
{"transform":[{"filter":"datum.lev=='low'"}],"mark":{"type":"text","text":"G−E","align":"left","baseline":"alphabetic","fontSize":18,"dx":181.5,"dy":16}},
{"transform":[{"filter":"datum.lev=='low'"}],"mark":{"type":"text","align":"left","baseline":"alphabetic","fontSize":27,"dx":219,"dy":10},"encoding":{"text":{"field":"eq"}}},
{"transform":[{"filter":"datum.lev=='med'"}],"mark":{"type":"text","text":", N","align":"left","baseline":"alphabetic","fontSize":27,"dx":155,"dy":10}},
{"transform":[{"filter":"datum.lev=='med'"}],"mark":{"type":"text","text":"G−E","align":"left","baseline":"alphabetic","fontSize":18,"dx":189.5,"dy":16}},
{"transform":[{"filter":"datum.lev=='med'"}],"mark":{"type":"text","align":"left","baseline":"alphabetic","fontSize":27,"dx":227,"dy":10},"encoding":{"text":{"field":"eq"}}},
{"transform":[{"filter":"datum.lev=='high'"}],"mark":{"type":"text","text":", N","align":"left","baseline":"alphabetic","fontSize":27,"dx":154,"dy":10}},
{"transform":[{"filter":"datum.lev=='high'"}],"mark":{"type":"text","text":"G−E","align":"left","baseline":"alphabetic","fontSize":18,"dx":188.5,"dy":16}},
{"transform":[{"filter":"datum.lev=='high'"}],"mark":{"type":"text","align":"left","baseline":"alphabetic","fontSize":27,"dx":226,"dy":10},"encoding":{"text":{"field":"eq"}}}
]}
],"spacing":34,"bounds":"full"}
